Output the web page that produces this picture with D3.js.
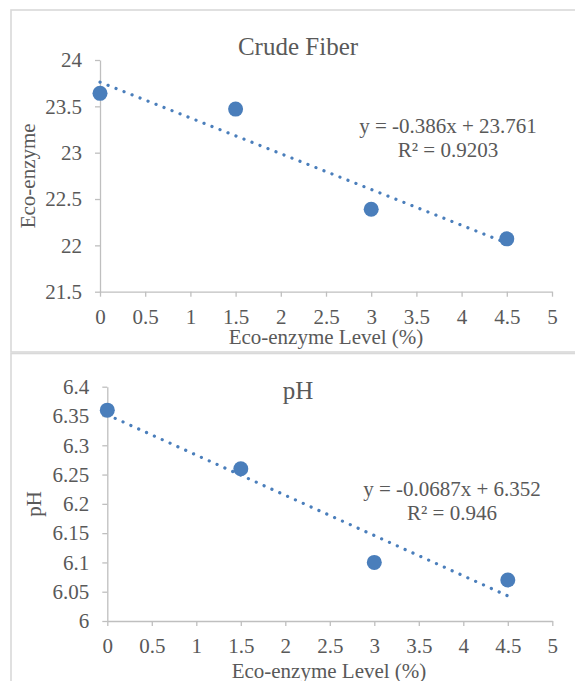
<!DOCTYPE html>
<html>
<head>
<meta charset="utf-8">
<script src="https://cdn.jsdelivr.net/npm/d3@7"></script>
<style>
  body { margin: 0; background: #fff; }
  text { font-family: "Liberation Serif", "Times New Roman", serif; fill: #595959; }
  .axis path, .axis line { stroke: #bfbfbf; stroke-width: 1.3; }
  .axis text { font-size: 21px; fill: #595959; }
</style>
</head>
<body>
<div id="chart"></div>
<script>
// data
var levels = [0, 1.5, 3, 4.5];
var crudeFiber = [23.64, 23.47, 22.39, 22.07];
var phValues = [6.36, 6.26, 6.10, 6.07];

var xTicks = [0, 0.5, 1, 1.5, 2, 2.5, 3, 3.5, 4, 4.5, 5];
var fiberTicks = [21.5, 22, 22.5, 23, 23.5, 24];
var phTicks = [6, 6.05, 6.1, 6.15, 6.2, 6.25, 6.3, 6.35, 6.4];

// trend lines: [slope, intercept]
var fiberTrend = [-0.386, 23.761];
var phTrend = [-0.0687, 6.352];
var fiberLabels = ["y = -0.386x + 23.761", "R\u00B2 = 0.9203"];
var phLabels = ["y = -0.0687x + 6.352", "R\u00B2 = 0.946"];

var blue = "#4a7ebb";
var serif = "Liberation Serif, Times New Roman, serif";

var svg = d3.select("#chart").append("svg")
  .attr("width", 575)
  .attr("height", 681);

function panel(opt) {
  var g = svg.append("g");

  // chart border
  g.append("rect")
    .attr("x", 11).attr("y", opt.boxTop)
    .attr("width", 600).attr("height", opt.boxH)
    .attr("fill", "none")
    .attr("stroke", "#d9d9d9")
    .attr("stroke-width", 1.6);

  var x = d3.scaleLinear().domain([0, 5]).range([opt.left, opt.right]);
  var y = d3.scaleLinear().domain(opt.yDomain).range([opt.bottom, opt.top]);

  g.append("g")
    .attr("class", "axis")
    .attr("transform", "translate(0," + opt.bottom + ")")
    .call(d3.axisBottom(x).tickValues(xTicks).tickSize(5).tickSizeOuter(0)
      .tickPadding(12).tickFormat(function (d) { return String(d); }))
    .attr("font-family", serif)
    .attr("font-size", 21);

  g.append("g")
    .attr("class", "axis")
    .attr("transform", "translate(" + opt.left + ",0)")
    .call(d3.axisLeft(y).tickValues(opt.yTicks).tickSize(5).tickSizeOuter(0)
      .tickPadding(13).tickFormat(function (d) { return String(d); }))
    .attr("font-family", serif)
    .attr("font-size", 21);

  // dotted linear trend line
  var line = d3.line()
    .x(function (d) { return x(d); })
    .y(function (d) { return y(opt.trend[0] * d + opt.trend[1]); });

  g.append("path")
    .datum([0, 4.5])
    .attr("d", line)
    .attr("fill", "none")
    .attr("stroke", blue)
    .attr("stroke-width", 3.2)
    .attr("stroke-linecap", "round")
    .attr("stroke-dasharray", "0.1 8.5");

  g.selectAll(".pt")
    .data(opt.values)
    .enter().append("circle")
    .attr("class", "pt")
    .attr("cx", function (d, i) { return x(levels[i]); })
    .attr("cy", function (d) { return y(d); })
    .attr("r", 7.5)
    .attr("fill", blue);

  g.append("text")
    .attr("x", 298).attr("y", opt.titleY)
    .attr("text-anchor", "middle")
    .style("font-size", "25px")
    .text(opt.title);

  g.selectAll(".eq")
    .data(opt.labels)
    .enter().append("text")
    .attr("x", opt.eqX)
    .attr("y", function (d, i) { return opt.eqY + i * 24; })
    .attr("text-anchor", "middle")
    .style("font-size", "21px")
    .text(function (d) { return d; });

  g.append("text")
    .attr("x", opt.xTitleX).attr("y", opt.xTitleY)
    .attr("text-anchor", "middle")
    .style("font-size", "21px")
    .text("Eco-enzyme Level (%)");

  g.append("text")
    .attr("transform", "translate(" + opt.yTitleX + "," + ((opt.top + opt.bottom) / 2) + ") rotate(-90)")
    .attr("text-anchor", "middle")
    .style("font-size", "21px")
    .text(opt.yTitle);
}

panel({
  boxTop: 10, boxH: 342,
  left: 100, right: 552, top: 60, bottom: 291.7,
  yDomain: [21.5, 24], yTicks: fiberTicks,
  values: crudeFiber, trend: fiberTrend, labels: fiberLabels,
  title: "Crude Fiber", titleY: 55,
  eqX: 448, eqY: 132.5,
  xTitleX: 326, xTitleY: 344,
  yTitle: "Eco-enzyme", yTitleX: 35
});

panel({
  boxTop: 353.5, boxH: 400,
  left: 107.3, right: 552.3, top: 386.7, bottom: 621,
  yDomain: [6, 6.4], yTicks: phTicks,
  values: phValues, trend: phTrend, labels: phLabels,
  title: "pH", titleY: 398.5,
  eqX: 452, eqY: 496,
  xTitleX: 329, xTitleY: 678,
  yTitle: "pH", yTitleX: 41
});
</script>
</body>
</html>
